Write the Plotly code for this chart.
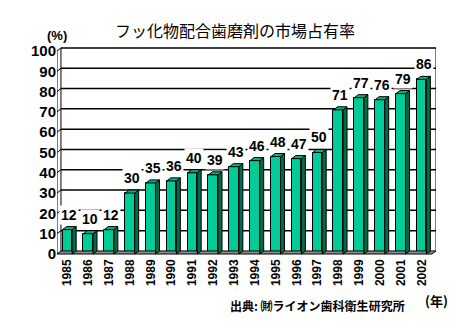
import plotly.graph_objects as go

# Market share of fluoride toothpaste in Japan, by year (%)
years = ["1985", "1986", "1987", "1988", "1989", "1990", "1991", "1992", "1993",
         "1994", "1995", "1996", "1997", "1998", "1999", "2000", "2001", "2002"]
share = [12, 10, 12, 30, 35, 36, 40, 39, 43, 46, 48, 47, 50, 71, 77, 76, 79, 86]
y_ticks = [0, 10, 20, 30, 40, 50, 60, 70, 80, 90, 100]

title_text = "フッ化物配合歯磨剤の市場占有率"
source_text = "出典: ㈶ライオン歯科衛生研究所"

FRONT = "#00CC99"
SIDE = "#006A4A"
TOP = "#00B386"
FLOOR = "#8C8C8C"

W = 0.46     # bar width (category units)
DX = 0.19    # depth offset, x
DY = 1.5     # depth offset, y
n = len(years)
xs = list(range(n))
x_lo, x_hi = -0.5, n - 0.5

fig = go.Figure()

# floor slab
fig.add_trace(go.Scatter(
    x=[x_lo, x_hi, x_hi + DX, x_lo + DX, x_lo],
    y=[0, 0, DY, DY, 0],
    fill="toself", fillcolor=FLOOR, mode="lines",
    line=dict(color="black", width=1), hoverinfo="skip", showlegend=False))

# front faces
fig.add_trace(go.Bar(
    x=xs, y=share, width=W, marker=dict(color=FRONT, line=dict(color="black", width=1)),
    showlegend=False, hoverinfo="skip"))

# side faces and tops built from the same values
sx, sy, tx, ty = [], [], [], []
for i, v in zip(xs, share):
    r = i + W / 2
    l = i - W / 2
    sx += [r, r + DX, r + DX, r, r, None]
    sy += [0, DY, v + DY, v, 0, None]
    tx += [l, l + DX, r + DX, r, l, None]
    ty += [v, v + DY, v + DY, v, v, None]
fig.add_trace(go.Scatter(x=sx, y=sy, fill="toself", fillcolor=SIDE, mode="lines",
                         line=dict(color="black", width=1), hoverinfo="skip",
                         showlegend=False, connectgaps=False))
fig.add_trace(go.Scatter(x=tx, y=ty, fill="toself", fillcolor=TOP, mode="lines",
                         line=dict(color="black", width=1), hoverinfo="skip",
                         showlegend=False, connectgaps=False))

shapes = []
# back-wall gridlines
for t in y_ticks[1:]:
    shapes.append(dict(type="line", xref="x", yref="y", layer="below",
                       x0=x_lo + DX, x1=x_hi + DX, y0=t + DY, y1=t + DY,
                       line=dict(color="black", width=1.5)))
    # small slanted tick on the side wall
    shapes.append(dict(type="line", xref="x", yref="y", layer="below",
                       x0=x_lo, x1=x_lo + DX, y0=t, y1=t + DY,
                       line=dict(color="black", width=1)))
# back wall left and right edges
shapes.append(dict(type="line", xref="x", yref="y", layer="below",
                   x0=x_lo + DX, x1=x_lo + DX, y0=DY, y1=100 + DY,
                   line=dict(color="black", width=1)))
shapes.append(dict(type="line", xref="x", yref="y", layer="below",
                   x0=x_hi + DX, x1=x_hi + DX, y0=DY, y1=100 + DY,
                   line=dict(color="black", width=1)))
# front left axis
shapes.append(dict(type="line", xref="x", yref="y", layer="below",
                   x0=x_lo, x1=x_lo, y0=0, y1=100,
                   line=dict(color="black", width=1)))

annotations = []
for i, v in zip(xs, share):
    annotations.append(dict(
        x=i + DX / 2, y=v + DY, xref="x", yref="y", text=str(v),
        showarrow=False, yanchor="bottom", yshift=2,
        bgcolor="white", borderpad=1,
        font=dict(family="Liberation Sans", size=14, color="black", weight="bold")))

annotations += [
    dict(x=0.0, y=1.052, xref="paper", yref="paper", text="(%)", showarrow=False,
         xanchor="center", yanchor="middle",
         font=dict(family="Liberation Sans", size=13, color="black", weight="bold")),
    dict(x=0.923, y=-0.238, xref="paper", yref="paper", text=source_text,
         showarrow=False, xanchor="right", yanchor="middle",
         font=dict(family="Noto Sans CJK JP", size=12, color="black", weight="bold")),
    dict(x=1.0, y=-0.21, xref="paper", yref="paper", text="(年)",
         showarrow=False, xanchor="center", yanchor="middle",
         font=dict(family="Noto Sans CJK JP", size=13, color="black", weight="bold")),
]

fig.update_layout(
    width=470, height=330,
    margin=dict(l=57, r=34, t=46, b=74),
    paper_bgcolor="white", plot_bgcolor="white",
    title=dict(text=title_text, x=0.5, xanchor="center", y=0.905, yanchor="middle",
               font=dict(family="Noto Sans CJK JP", size=16, color="black")),
    xaxis=dict(range=[x_lo, x_hi + DX], tickmode="array", tickvals=xs, ticktext=years,
               tickangle=-90, showgrid=False, zeroline=False, showline=False, ticks="",
               fixedrange=True,
               tickfont=dict(family="Liberation Sans", size=12, color="black", weight="bold")),
    yaxis=dict(range=[-0.985, 102.46], tickmode="array", tickvals=y_ticks,
               showgrid=False, zeroline=False, showline=False, ticks="",
               fixedrange=True,
               tickfont=dict(family="Liberation Sans", size=15, color="black", weight="bold")),
    shapes=shapes, annotations=annotations, bargap=0,
)

fig.write_html("out.html")
